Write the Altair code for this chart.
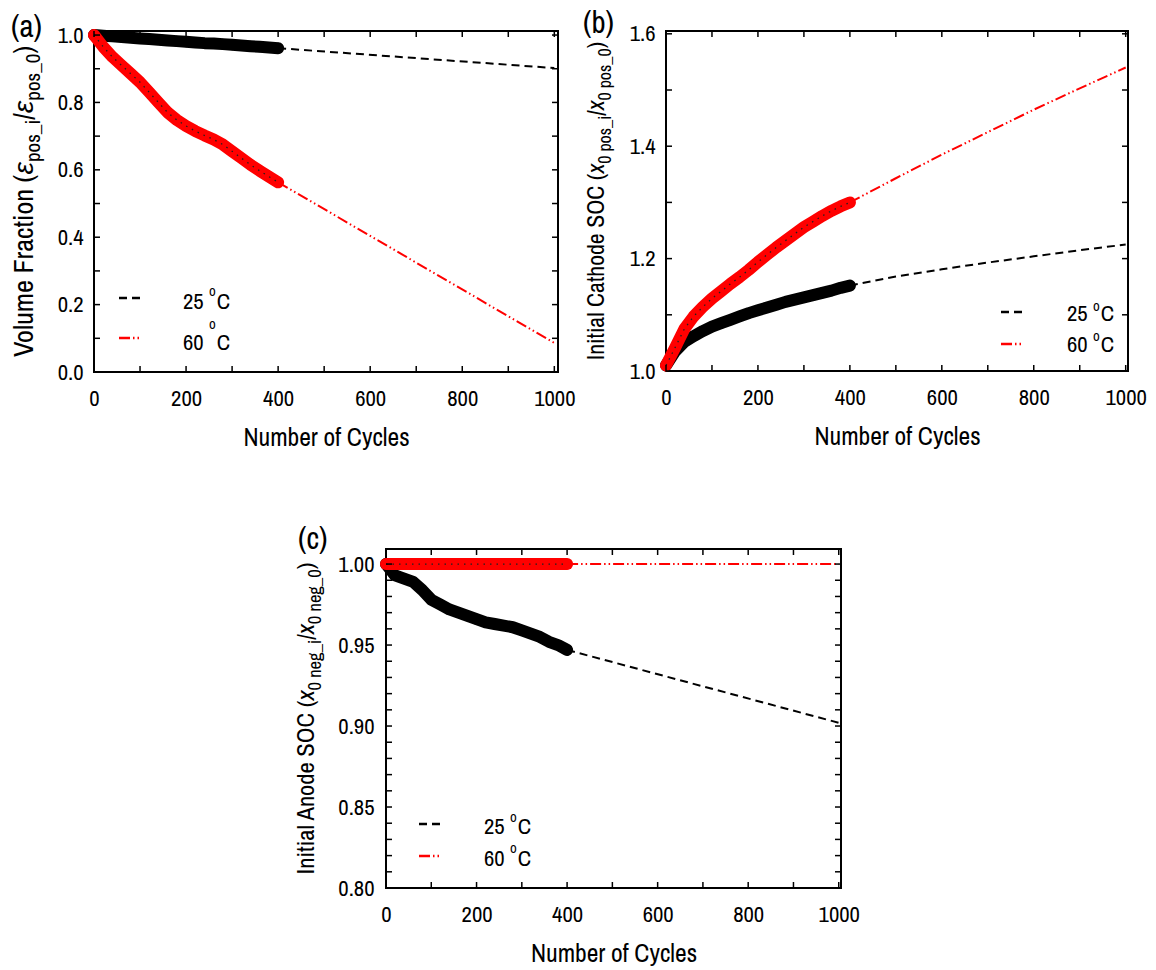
import subprocess
import altair as alt
import pandas as pd

# ---------------- data ----------------
cycles_measured = [0, 20, 40, 60, 80, 100, 120, 140, 160, 180, 200,
                   220, 240, 260, 280, 300, 320, 340, 360, 380, 400]

a_25_measured = [1.000, 0.998, 0.996, 0.994, 0.992, 0.990, 0.988, 0.986, 0.984, 0.982, 0.980,
                 0.978, 0.976, 0.975, 0.973, 0.971, 0.969, 0.967, 0.965, 0.963, 0.961]
a_60_measured = [1.000, 0.965, 0.935, 0.910, 0.885, 0.860, 0.830, 0.800, 0.770, 0.748, 0.730,
                 0.715, 0.702, 0.690, 0.675, 0.655, 0.635, 0.615, 0.597, 0.580, 0.563]
a_extrap_cycles = [400, 1000]
a_25_extrap = [0.961, 0.902]
a_60_extrap = [0.563, 0.086]

b_25_measured = [1.010, 1.035, 1.052, 1.062, 1.071, 1.079, 1.085, 1.091, 1.097, 1.103, 1.108,
                 1.113, 1.118, 1.123, 1.127, 1.131, 1.135, 1.139, 1.143, 1.148, 1.152]
b_60_measured = [1.010, 1.042, 1.075, 1.097, 1.114, 1.129, 1.142, 1.155, 1.167, 1.180, 1.194,
                 1.207, 1.220, 1.232, 1.244, 1.256, 1.266, 1.276, 1.285, 1.293, 1.300]
b_extrap_cycles = [400, 500, 600, 700, 800, 900, 1000]
b_25_extrap = [1.152, 1.168, 1.181, 1.193, 1.204, 1.215, 1.225]
b_60_extrap = [1.300, 1.343, 1.385, 1.425, 1.465, 1.503, 1.540]

c_25_measured = [1.000, 0.993, 0.991, 0.989, 0.984, 0.978, 0.975, 0.972, 0.970, 0.968, 0.966,
                 0.964, 0.963, 0.962, 0.961, 0.959, 0.957, 0.955, 0.952, 0.950, 0.947]
c_60_measured = [1.000, 1.000, 1.000, 1.000, 1.000, 1.000, 1.000, 1.000, 1.000, 1.000, 1.000,
                 1.000, 1.000, 1.000, 1.000, 1.000, 1.000, 1.000, 1.000, 1.000, 1.000]
c_extrap_cycles = [400, 1000]
c_25_extrap = [0.947, 0.902]
c_60_extrap = [1.000, 1.000]

x_tick_labels = [0, 200, 400, 600, 800, 1000]
x_minor_ticks = [0, 100, 200, 300, 400, 500, 600, 700, 800, 900, 1000]
a_y_labels = [0.0, 0.2, 0.4, 0.6, 0.8, 1.0]
a_y_minor = [0.0, 0.1, 0.2, 0.3, 0.4, 0.5, 0.6, 0.7, 0.8, 0.9, 1.0]
b_y_labels = [1.0, 1.2, 1.4, 1.6]
b_y_minor = [1.0, 1.1, 1.2, 1.3, 1.4, 1.5, 1.6]
c_y_labels = [0.80, 0.85, 0.90, 0.95, 1.00]
c_y_minor = [0.80, 0.81, 0.82, 0.83, 0.84, 0.85, 0.86, 0.87, 0.88, 0.89, 0.90,
             0.91, 0.92, 0.93, 0.94, 0.95, 0.96, 0.97, 0.98, 0.99, 1.00]
legend_labels = ["25", "60"]

title_a = [("Volume Fraction (", False, False), ("ε", True, False), ("pos_i", False, True),
           ("/", False, False), ("ε", True, False), ("pos_0", False, True), (")", False, False)]
title_b = [("Initial Cathode SOC (", False, False), ("x", True, False), ("0 pos_i", False, True),
           ("/", False, False), ("x", True, False), ("0 pos_0", False, True), (")", False, False)]
title_c = [("Initial Anode SOC (", False, False), ("x", True, False), ("0 neg_i", False, True),
           ("/", False, False), ("x", True, False), ("0 neg_0", False, True), (")", False, False)]

# ---------------- fonts and text measurement ----------------
FONT = "Archivo Narrow"
GREEK = "Liberation Sans"

AW = {" ": 278, "(": 333, ")": 333, "/": 278, "_": 556, "0": 556, "2": 556, "4": 556, "5": 556,
      "6": 556, "A": 667, "C": 722, "F": 611, "I": 278, "N": 722, "O": 778, "S": 667, "V": 667,
      "a": 556, "b": 556, "c": 500, "d": 556, "e": 556, "f": 278, "g": 556, "h": 556, "i": 222,
      "l": 222, "m": 833, "n": 556, "o": 556, "p": 556, "r": 333, "s": 500, "y": 500,
      "t": 278, "u": 556, "x": 500, "ε": 520}


def font_file(name):
    try:
        return subprocess.run(["fc-match", "-f", "%{file}", name],
                              capture_output=True, text=True).stdout.strip()
    except Exception:
        return ""


_cache = {}


def tw(s, size, fam=FONT):
    try:
        from PIL import ImageFont
        if fam not in _cache:
            _cache[fam] = ImageFont.truetype(font_file(fam), 200)
        return _cache[fam].getlength(s) * size / 200.0
    except Exception:
        return sum(AW.get(ch, 556) for ch in s) / 1000.0 * size * 0.82


def fam_of(t):
    return GREEK if t == "ε" else FONT


def size_for(s, target):
    return round(target / tw(s, 1.0), 1)


SUB_RATIO = 0.75
LAB = size_for("400", 31)                 # tick labels
TITX = size_for("Number of Cycles", 166)  # x title
PLAB = size_for("(a)", 31)                # panel labels
SUP = round(LAB * 0.65, 1)                # degree "o"


def title_size(pieces, span):
    unit = sum(tw(t, SUB_RATIO if sub else 1.0, fam_of(t)) for t, it, sub in pieces)
    return round(span / unit, 1)


BLACK = "#000000"
RED = "#ff0000"
RED_DASH = [11, 3, 1.5, 3, 1.5, 3]


def one():
    return pd.DataFrame({"d": [0]})


def panel(W, H, xdom, ydom, ylab, yminor, yfmt, ypad,
          m25, m60, ex_x, ex25, ex60, pieces, span, tx, label, lxy, leg):
    TIT = title_size(pieces, span)
    SUB = round(TIT * SUB_RATIO, 1)
    xs = alt.Scale(domain=xdom, nice=False, zero=False)
    ys = alt.Scale(domain=ydom, nice=False, zero=False)
    xaxis = alt.Axis(values=x_tick_labels, format="d", title="Number of Cycles",
                     ticks=False, domain=False, grid=False, labelPadding=15,
                     titlePadding=16, labelFontSize=LAB, titleFontSize=TITX,
                     labelFont=FONT, titleFont=FONT, labelColor=BLACK, titleColor=BLACK,
                     titleFontWeight="normal", labelFlush=False)
    yaxis = alt.Axis(values=ylab, format=yfmt, title=None, ticks=False, domain=False,
                     grid=False, labelPadding=ypad, labelFontSize=LAB, labelFont=FONT,
                     labelColor=BLACK, labelFlush=False)
    X = lambda f="x": alt.X(f + ":Q", scale=xs, axis=xaxis)
    Y = lambda f="y": alt.Y(f + ":Q", scale=ys, axis=yaxis)

    d25 = pd.DataFrame({"x": cycles_measured, "y": m25})
    d60 = pd.DataFrame({"x": cycles_measured, "y": m60})
    e25 = pd.DataFrame({"x": ex_x[0], "y": ex25})
    e60 = pd.DataFrame({"x": ex_x[1], "y": ex60})

    layers = []
    layers.append(alt.Chart(d25).mark_line(color=BLACK, strokeWidth=12, strokeCap="round",
                                           strokeJoin="round").encode(x=X(), y=Y()))
    layers.append(alt.Chart(d25).mark_circle(color=BLACK, size=115, opacity=1).encode(x=X(), y=Y()))
    layers.append(alt.Chart(e25).mark_line(color=BLACK, strokeWidth=2,
                                           strokeDash=[8, 5]).encode(x=X(), y=Y()))
    layers.append(alt.Chart(d60).mark_line(color=RED, strokeWidth=12, strokeCap="round",
                                           strokeJoin="round").encode(x=X(), y=Y()))
    layers.append(alt.Chart(d60).mark_circle(color=RED, size=115, opacity=1).encode(x=X(), y=Y()))
    layers.append(alt.Chart(d60).mark_line(color="#202020", strokeWidth=1.3,
                                           strokeDash=[1.5, 5]).encode(x=X(), y=Y()))
    layers.append(alt.Chart(e60).mark_line(color=RED, strokeWidth=2,
                                           strokeDash=RED_DASH).encode(x=X(), y=Y()))

    tx_df = pd.DataFrame({"x": x_minor_ticks})
    ty_df = pd.DataFrame({"y": yminor})
    tl = 6
    layers.append(alt.Chart(tx_df).mark_rule(color=BLACK, strokeWidth=1.5).encode(
        x=X(), y=alt.value(H), y2=alt.value(H - tl)))
    layers.append(alt.Chart(tx_df).mark_rule(color=BLACK, strokeWidth=1.5).encode(
        x=X(), y=alt.value(0), y2=alt.value(tl)))
    layers.append(alt.Chart(ty_df).mark_rule(color=BLACK, strokeWidth=1.5).encode(
        y=Y(), x=alt.value(0), x2=alt.value(tl)))
    layers.append(alt.Chart(ty_df).mark_rule(color=BLACK, strokeWidth=1.5).encode(
        y=Y(), x=alt.value(W), x2=alt.value(W - tl)))

    # legend
    for i, (lab, col, dash) in enumerate([(legend_labels[0], BLACK, [8, 5]),
                                          (legend_labels[1], RED, RED_DASH)]):
        ly = leg["rows"][i]
        ox = leg["tx"] + tw(lab + " ", LAB)
        cx = ox + tw("o", SUP) + 1
        layers.append(alt.Chart(one()).mark_rule(color=col, strokeWidth=2.5, strokeDash=dash).encode(
            x=alt.value(leg["sx"][0]), x2=alt.value(leg["sx"][1]), y=alt.value(ly)))
        layers.append(alt.Chart(one()).mark_text(font=FONT, fontSize=LAB, align="left",
                                                 baseline="alphabetic", color=BLACK).encode(
            x=alt.value(leg["tx"]), y=alt.value(leg["base"][i]), text=alt.value(lab)))
        layers.append(alt.Chart(one()).mark_text(font=FONT, fontSize=SUP, align="left",
                                                 baseline="alphabetic", color=BLACK).encode(
            x=alt.value(ox), y=alt.value(leg["obase"][i]), text=alt.value("o")))
        layers.append(alt.Chart(one()).mark_text(font=FONT, fontSize=LAB, align="left",
                                                 baseline="alphabetic", color=BLACK).encode(
            x=alt.value(cx), y=alt.value(leg["base"][i]), text=alt.value("C")))

    # rotated y-axis title made of pieces
    total = sum(tw(t, SUB if sub else TIT, fam_of(t)) for t, it, sub in pieces)
    cur = H / 2 + total / 2
    for text, italic, sub in pieces:
        size = SUB if sub else TIT
        layers.append(alt.Chart(one()).mark_text(
            font=fam_of(text), fontSize=size, align="left", baseline="alphabetic", angle=270,
            fontStyle="italic" if italic else "normal", color=BLACK).encode(
            x=alt.value(tx + (7 if sub else 0)), y=alt.value(cur), text=alt.value(text)))
        cur -= tw(text, size, fam_of(text))

    layers.append(alt.Chart(one()).mark_text(font=FONT, fontSize=PLAB, align="left",
                                             baseline="alphabetic", color=BLACK).encode(
        x=alt.value(lxy[0]), y=alt.value(lxy[1]), text=alt.value(label)))

    return alt.layer(*layers).properties(width=W, height=H)


pa = panel(464, 341, [0, 1008], [0.0, 1.012], a_y_labels, a_y_minor, ".1f", 11,
           a_25_measured, a_60_measured, (a_extrap_cycles, a_extrap_cycles), a_25_extrap, a_60_extrap,
           title_a, 312, -61, "(a)", (-83, 6),
           dict(sx=(25, 47), rows=(267, 307), tx=89, base=(278, 319), obase=(265, 298)))

pb = panel(462, 340, [0, 1005], [1.0, 1.605], b_y_labels, b_y_minor, ".1f", 11,
           b_25_measured, b_60_measured, (b_extrap_cycles, b_extrap_cycles), b_25_extrap, b_60_extrap,
           title_b, 318, -62, "(b)", (-83, 2),
           dict(sx=(335, 358), rows=(281, 313), tx=401, base=(290, 321), obase=(280, 310)))

pc = panel(455, 339, [0, 1005], [0.80, 1.0093], c_y_labels, c_y_minor, ".2f", 12,
           c_25_measured, c_60_measured, (c_extrap_cycles, c_extrap_cycles), c_25_extrap, c_60_extrap,
           title_c, 312, -72, "(c)", (-88, 0),
           dict(sx=(33, 55), rows=(275, 307), tx=98, base=(285, 317), obase=(273, 304)))

spacer = alt.Chart(one()).mark_point(opacity=0).encode(
    x=alt.value(0), y=alt.value(0)).properties(width=197, height=10,
                                               view=alt.ViewBackground(stroke="transparent"))

top = alt.hconcat(pa, pb, spacing=5)
bottom = alt.hconcat(spacer, pc, spacing=0)
chart = alt.vconcat(top, bottom, spacing=70).properties(
    padding={"left": 8, "top": 7, "right": 5, "bottom": 5}
).configure_view(stroke=BLACK, strokeWidth=2)

chart.save("out.html", embed_options={"renderer": "svg", "actions": False})
